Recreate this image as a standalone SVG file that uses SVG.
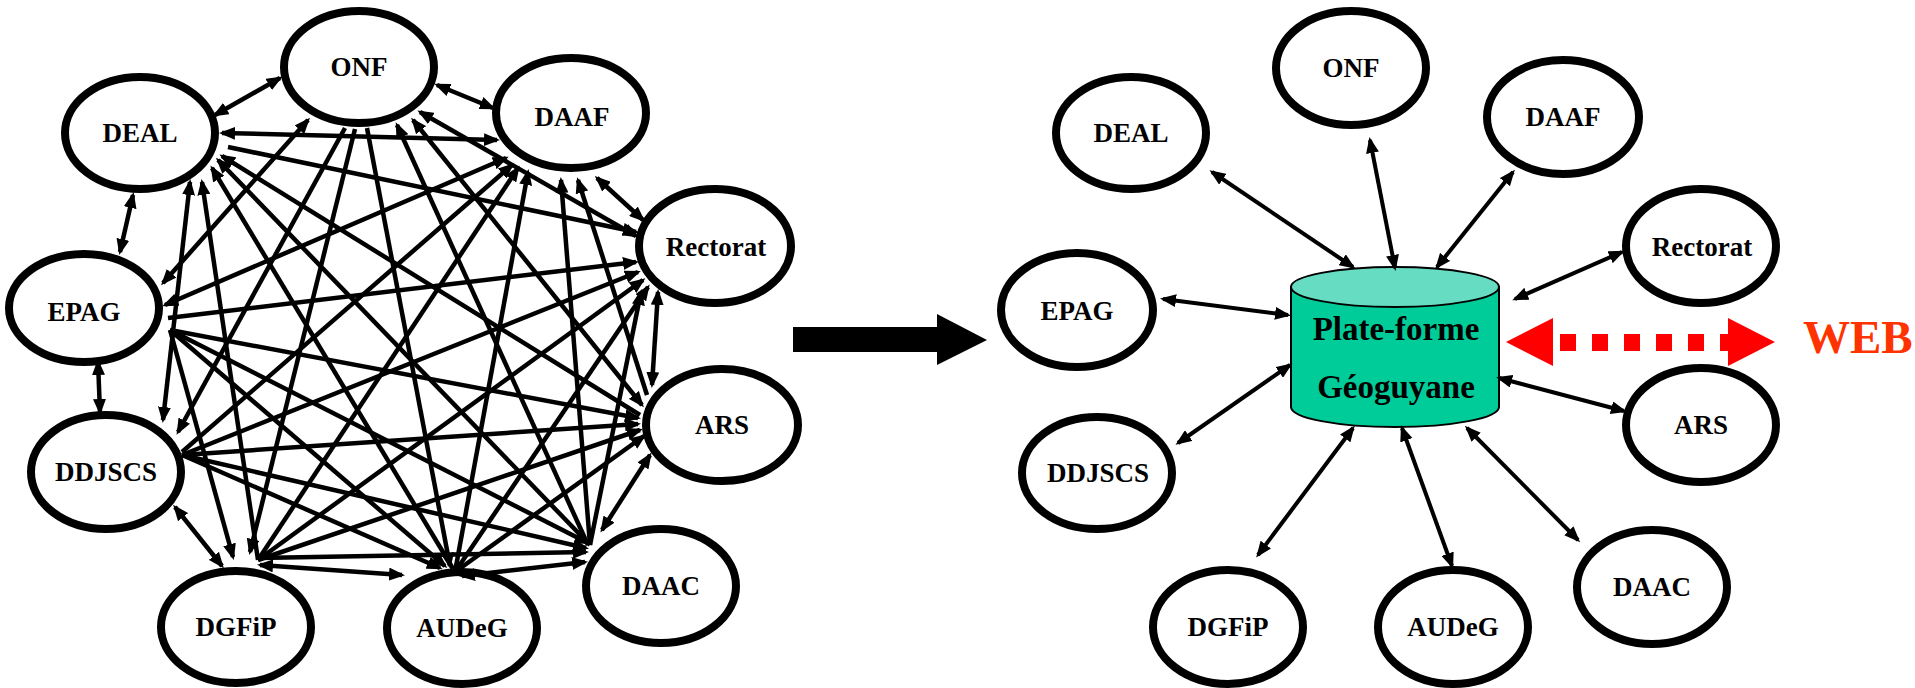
<svg xmlns="http://www.w3.org/2000/svg" width="1915" height="688" viewBox="0 0 1915 688">
<defs>
<style>
.n{fill:#fff;stroke:#000;stroke-width:8}
.t{font-family:"Liberation Serif","Times New Roman",serif;font-weight:bold;font-size:27px;fill:#000;text-anchor:middle}
.c line{stroke:#000;stroke-width:4.5;fill:none}
.c .b{marker-start:url(#ah);marker-end:url(#ah)}
.c .e{marker-end:url(#ah)}
.r line{stroke-width:4}
</style>
<marker id="ah" viewBox="0 0 16 13" refX="13" refY="6.5" markerWidth="16" markerHeight="13" markerUnits="userSpaceOnUse" orient="auto-start-reverse">
<path d="M0,0 L16,6.5 L0,13 z" fill="#000"/>
</marker>
</defs>
<rect width="1915" height="688" fill="#fff"/>

<!-- left network nodes -->
<g id="l-onf"><ellipse class="n" cx="359" cy="67" rx="75" ry="56"/><text class="t" x="359" y="76">ONF</text></g>
<g id="l-deal"><ellipse class="n" cx="140" cy="133" rx="75" ry="56"/><text class="t" x="140" y="142">DEAL</text></g>
<g id="l-daaf"><ellipse class="n" cx="571" cy="113" rx="75" ry="55"/><text class="t" x="572" y="126">DAAF</text></g>
<g id="l-rectorat"><ellipse class="n" cx="715" cy="246" rx="76" ry="57"/><text class="t" x="716" y="256">Rectorat</text></g>
<g id="l-epag"><ellipse class="n" cx="84" cy="308" rx="75" ry="54"/><text class="t" x="84" y="321">EPAG</text></g>
<g id="l-ars"><ellipse class="n" cx="722" cy="425" rx="76" ry="56"/><text class="t" x="722" y="434">ARS</text></g>
<g id="l-ddjscs"><ellipse class="n" cx="106" cy="472" rx="75" ry="57"/><text class="t" x="106" y="481">DDJSCS</text></g>
<g id="l-daac"><ellipse class="n" cx="661" cy="586" rx="75" ry="57"/><text class="t" x="661" y="595">DAAC</text></g>
<g id="l-dgfip"><ellipse class="n" cx="236" cy="627" rx="75" ry="56"/><text class="t" x="236" y="636">DGFiP</text></g>
<g id="l-audeg"><ellipse class="n" cx="462" cy="628" rx="75" ry="56"/><text class="t" x="462" y="637">AUDeG</text></g>

<!-- left connectors -->
<g id="l-connectors" class="c">
<line class="b" x1="437" y1="85" x2="493" y2="108"/>
<line class="b" x1="280" y1="78" x2="215" y2="115"/>
<line class="b" x1="420" y1="112" x2="636" y2="236"/>
<line class="b" x1="413" y1="120" x2="642" y2="405"/>
<line class="e" x1="588" y1="545" x2="397" y2="125"/>
<line class="e" x1="367" y1="128" x2="450" y2="566"/>
<line class="e" x1="355" y1="129" x2="250" y2="552"/>
<line class="e" x1="345" y1="128" x2="178" y2="432"/>
<line class="b" x1="308" y1="120" x2="163" y2="283"/>
<line class="b" x1="133" y1="195" x2="120" y2="252"/>
<line class="b" x1="222" y1="133" x2="497" y2="140"/>
<line class="e" x1="228" y1="147" x2="636" y2="232"/>
<line class="e" x1="640" y1="415" x2="222" y2="156"/>
<line class="e" x1="590" y1="545" x2="218" y2="160"/>
<line class="e" x1="455" y1="572" x2="212" y2="168"/>
<line class="e" x1="258" y1="560" x2="202" y2="182"/>
<line class="b" x1="190" y1="182" x2="163" y2="420"/>
<line class="b" x1="597" y1="178" x2="643" y2="220"/>
<line class="b" x1="165" y1="305" x2="506" y2="158"/>
<line class="e" x1="182" y1="452" x2="512" y2="165"/>
<line class="e" x1="258" y1="560" x2="518" y2="168"/>
<line class="e" x1="455" y1="572" x2="528" y2="172"/>
<line class="e" x1="590" y1="545" x2="561" y2="180"/>
<line class="e" x1="647" y1="395" x2="578" y2="180"/>
<line class="b" x1="658" y1="292" x2="652" y2="385"/>
<line class="e" x1="168" y1="318" x2="636" y2="262"/>
<line class="e" x1="182" y1="455" x2="638" y2="272"/>
<line class="e" x1="258" y1="560" x2="643" y2="280"/>
<line class="e" x1="455" y1="572" x2="648" y2="287"/>
<line class="e" x1="590" y1="545" x2="641" y2="292"/>
<line class="b" x1="650" y1="455" x2="602" y2="530"/>
<line class="e" x1="170" y1="330" x2="638" y2="418"/>
<line class="e" x1="182" y1="455" x2="638" y2="424"/>
<line class="e" x1="258" y1="560" x2="640" y2="430"/>
<line class="e" x1="455" y1="572" x2="644" y2="436"/>
<line class="b" x1="98" y1="362" x2="100" y2="412"/>
<line class="e" x1="170" y1="330" x2="588" y2="543"/>
<line class="e" x1="170" y1="330" x2="445" y2="566"/>
<line class="e" x1="170" y1="330" x2="233" y2="557"/>
<line class="b" x1="175" y1="507" x2="222" y2="566"/>
<line class="e" x1="182" y1="455" x2="586" y2="548"/>
<line class="e" x1="182" y1="455" x2="440" y2="568"/>
<line class="b" x1="260" y1="565" x2="402" y2="575"/>
<line class="e" x1="258" y1="558" x2="586" y2="552"/>
<line class="b" x1="462" y1="576" x2="585" y2="562"/>
</g>

<!-- transition arrow -->
<g id="big-arrow"><polygon points="793,327 937,327 937,314 987,340 937,365 937,352 793,352" fill="#000"/></g>

<!-- right nodes -->
<g id="r-deal"><ellipse class="n" cx="1131" cy="133" rx="75" ry="56"/><text class="t" x="1131" y="142">DEAL</text></g>
<g id="r-onf"><ellipse class="n" cx="1351" cy="68" rx="75" ry="57"/><text class="t" x="1351" y="77">ONF</text></g>
<g id="r-daaf"><ellipse class="n" cx="1563" cy="117" rx="76" ry="57"/><text class="t" x="1563" y="126">DAAF</text></g>
<g id="r-rectorat"><ellipse class="n" cx="1701" cy="246" rx="75" ry="57"/><text class="t" x="1702" y="256">Rectorat</text></g>
<g id="r-epag"><ellipse class="n" cx="1077" cy="310" rx="76" ry="57"/><text class="t" x="1077" y="320">EPAG</text></g>
<g id="r-ars"><ellipse class="n" cx="1701" cy="425" rx="75" ry="57"/><text class="t" x="1701" y="434">ARS</text></g>
<g id="r-ddjscs"><ellipse class="n" cx="1097" cy="473" rx="75" ry="56"/><text class="t" x="1098" y="482">DDJSCS</text></g>
<g id="r-daac"><ellipse class="n" cx="1652" cy="587" rx="75" ry="57"/><text class="t" x="1652" y="596">DAAC</text></g>
<g id="r-dgfip"><ellipse class="n" cx="1228" cy="627" rx="75" ry="57"/><text class="t" x="1228" y="636">DGFiP</text></g>
<g id="r-audeg"><ellipse class="n" cx="1453" cy="627" rx="75" ry="57"/><text class="t" x="1453" y="636">AUDeG</text></g>

<!-- central platform -->
<g id="r-platform">
<path d="M1291,287 V407 A104,20 0 0 0 1499,407 V287 Z" fill="#00CC99" stroke="#000" stroke-width="2"/>
<ellipse cx="1395" cy="287" rx="104" ry="20" fill="#66DDC2" stroke="#000" stroke-width="2"/>
<text x="1396" y="340" font-family="'Liberation Serif','Times New Roman',serif" font-weight="bold" font-size="33" text-anchor="middle" fill="#000">Plate-forme</text>
<text x="1396" y="398" font-family="'Liberation Serif','Times New Roman',serif" font-weight="bold" font-size="33" text-anchor="middle" fill="#000">Géoguyane</text>
</g>

<!-- right connectors -->
<g id="r-connectors" class="c r">
<line class="b" x1="1212" y1="172" x2="1353" y2="267"/>
<line class="b" x1="1370" y1="140" x2="1395" y2="268"/>
<line class="b" x1="1513" y1="172" x2="1437" y2="267"/>
<line class="b" x1="1622" y1="252" x2="1515" y2="299"/>
<line class="b" x1="1163" y1="299" x2="1288" y2="315"/>
<line class="b" x1="1178" y1="443" x2="1290" y2="365"/>
<line class="b" x1="1258" y1="555" x2="1353" y2="428"/>
<line class="b" x1="1402" y1="428" x2="1452" y2="566"/>
<line class="b" x1="1467" y1="428" x2="1578" y2="540"/>
<line class="b" x1="1499" y1="378" x2="1624" y2="411"/>
</g>

<!-- web link -->
<g id="web-arrow" fill="#FF0000">
<polygon points="1506,342 1553,318 1553,366"/>
<polygon points="1775,342 1728,318 1728,366"/>
<rect x="1560" y="334" width="16" height="17"/>
<rect x="1592" y="334" width="16" height="17"/>
<rect x="1624" y="334" width="16" height="17"/>
<rect x="1656" y="334" width="16" height="17"/>
<rect x="1688" y="334" width="16" height="17"/>
<rect x="1720" y="334" width="10" height="17"/>
</g>
<g id="web"><text x="1803" y="353" font-family="'Liberation Serif','Times New Roman',serif" font-weight="bold" font-size="47" fill="#FF3300">WEB</text></g>
</svg>
